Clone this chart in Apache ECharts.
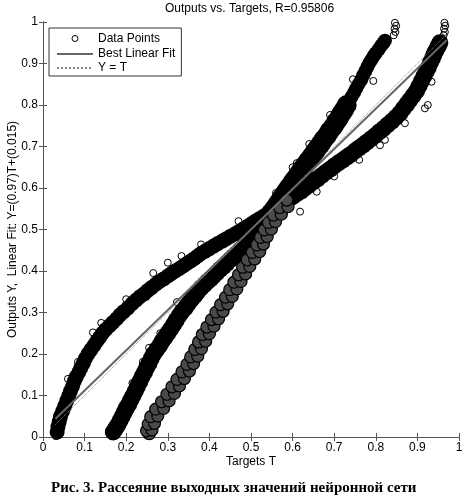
<!DOCTYPE html>
<html><head><meta charset="utf-8">
<script src="https://cdn.jsdelivr.net/npm/echarts@6/dist/echarts.min.js"></script>
<style>html,body{margin:0;padding:0;background:#fff}#c{width:467px;height:500px}</style>
</head><body><div id="c"></div>
<script>
const titleText = 'Outputs vs. Targets, R=0.95806';
const xName = 'Targets T';
const yName = 'Outputs Y,  Linear Fit: Y=(0.97)T+(0.015)';
const captionBold = 'Рис. 3.';
const captionText = ' Рассеяние выходных значений нейронной сети';
const tickLabels = ['0','0.1','0.2','0.3','0.4','0.5','0.6','0.7','0.8','0.9','1'];
const legendNames = ['Data Points','Best Linear Fit','Y = T'];

// lower-left curved band
const bandA = [
[0.034,0.012],[0.036,0.025],[0.039,0.037],
[0.042,0.049],[0.047,0.062],[0.052,0.074],[0.057,0.087],
[0.062,0.099],[0.066,0.111],[0.071,0.122],[0.075,0.134],
[0.080,0.145],[0.086,0.156],[0.091,0.167],[0.097,0.178],[0.102,0.189],
[0.108,0.200],[0.115,0.210],[0.122,0.220],[0.129,0.230],[0.136,0.240],
[0.143,0.250],[0.151,0.259],[0.160,0.268],[0.168,0.276],[0.177,0.285],[0.185,0.294],
[0.194,0.302],[0.204,0.311],[0.214,0.321],
[0.224,0.330],[0.233,0.338],[0.243,0.345],[0.252,0.353],[0.261,0.360],[0.271,0.368],
[0.280,0.375],[0.290,0.381],[0.300,0.388],[0.309,0.394],[0.318,0.400],[0.328,0.406],
[0.337,0.412],[0.346,0.418],[0.355,0.424],[0.364,0.430],[0.372,0.436],[0.380,0.442],
[0.390,0.448],[0.400,0.454],[0.410,0.460],[0.420,0.466],[0.431,0.472],[0.441,0.478],
[0.451,0.484],[0.461,0.489],[0.471,0.495],[0.481,0.501],[0.491,0.507],[0.501,0.514],
[0.510,0.520],[0.520,0.526],[0.530,0.532],[0.540,0.539],[0.550,0.545]
];
// middle band starting at T=0.16
const bandB = [
[0.169,0.012],[0.174,0.020],[0.180,0.029],[0.185,0.039],
[0.190,0.049],[0.195,0.059],[0.200,0.069],[0.206,0.079],[0.211,0.089],
[0.216,0.099],[0.222,0.111],[0.227,0.122],[0.233,0.134],
[0.238,0.145],[0.244,0.156],[0.249,0.167],[0.255,0.178],[0.260,0.189],
[0.266,0.200],[0.273,0.210],[0.280,0.220],[0.286,0.230],[0.293,0.240],
[0.300,0.250],[0.307,0.260],[0.314,0.271],[0.320,0.281],[0.327,0.292],
[0.334,0.302],[0.342,0.311],[0.349,0.321],
[0.357,0.332],[0.365,0.341],[0.372,0.350],
[0.380,0.359],[0.388,0.367],[0.395,0.374],[0.403,0.381],
[0.410,0.388],[0.418,0.396],[0.426,0.404],[0.434,0.411],[0.442,0.419],
[0.450,0.427],[0.458,0.435],[0.466,0.442],[0.474,0.450],[0.482,0.458],
[0.490,0.465],[0.498,0.473],[0.506,0.481],[0.514,0.489],[0.522,0.496],[0.530,0.504]
];
// right band starting at T=0.25
const bandC = [
[0.256,0.008],[0.249,0.015],[0.262,0.017],[0.253,0.031],[0.268,0.033],[0.259,0.049],
[0.276,0.051],[0.271,0.067],[0.290,0.069],[0.285,0.085],[0.303,0.087],[0.298,0.103],
[0.316,0.105],[0.310,0.121],[0.328,0.123],[0.322,0.139],[0.340,0.141],[0.334,0.157],
[0.352,0.159],[0.346,0.175],[0.362,0.177],[0.355,0.193],[0.372,0.195],[0.365,0.211],
[0.381,0.213],[0.374,0.229],[0.391,0.231],[0.383,0.247],[0.400,0.249],[0.394,0.265],
[0.411,0.267],[0.405,0.283],[0.422,0.285],[0.416,0.301],[0.433,0.303],[0.427,0.319],
[0.444,0.321],[0.439,0.337],[0.455,0.339],[0.449,0.355],[0.466,0.357],[0.459,0.373],
[0.476,0.375],[0.470,0.391],[0.487,0.393],[0.480,0.409],[0.497,0.411],[0.491,0.427],
[0.509,0.429],[0.503,0.445],[0.521,0.447],[0.514,0.463],[0.530,0.465],[0.523,0.481],
[0.539,0.483],[0.532,0.499],[0.549,0.501],[0.542,0.517],[0.559,0.519],[0.554,0.535],
[0.573,0.537],[0.569,0.553],[0.589,0.555],[0.586,0.571]
];
// upper steep band (ends near T=0.82)
const steepLow = [
[0.530,0.515],[0.536,0.523],[0.542,0.531],[0.548,0.539],[0.554,0.547],[0.560,0.555],
[0.566,0.564],[0.572,0.573],[0.578,0.582],[0.584,0.591],[0.590,0.600],[0.597,0.609],
[0.603,0.618],[0.610,0.627],[0.617,0.637],[0.623,0.646],[0.630,0.655],[0.637,0.665],
[0.645,0.675],[0.652,0.685],[0.659,0.695],[0.667,0.705],[0.674,0.716],[0.682,0.726],
[0.689,0.737],[0.697,0.747],[0.704,0.758],[0.711,0.768],[0.717,0.779],[0.724,0.789],
[0.730,0.800]
];
const steepTop = [
[0.736,0.810],[0.742,0.820],[0.748,0.830],[0.753,0.840],[0.759,0.851],[0.765,0.861],
[0.770,0.872],[0.775,0.882],[0.780,0.892],[0.785,0.902],[0.790,0.910],[0.795,0.918],
[0.800,0.925],[0.807,0.934],[0.813,0.943],[0.818,0.949],[0.822,0.955]
];
// upper flat band (ends near T=0.95)
const flatBand = [
[0.550,0.545],[0.560,0.552],[0.570,0.559],[0.580,0.566],[0.590,0.573],[0.600,0.579],
[0.610,0.586],[0.620,0.592],[0.630,0.600],[0.640,0.607],[0.650,0.615],[0.660,0.622],
[0.670,0.630],[0.680,0.638],[0.690,0.645],[0.700,0.653],[0.710,0.660],[0.720,0.667],
[0.730,0.674],[0.740,0.681],[0.750,0.689],[0.759,0.696],[0.769,0.703],[0.778,0.710],
[0.788,0.718],[0.798,0.726],[0.808,0.735],[0.818,0.743],[0.828,0.752],[0.838,0.760],
[0.848,0.770],[0.858,0.780],[0.866,0.791],[0.874,0.801],[0.882,0.812],[0.890,0.823],
[0.898,0.834],[0.904,0.846],[0.910,0.858],[0.916,0.870],[0.921,0.880],[0.926,0.890],
[0.931,0.902],[0.936,0.912],[0.940,0.922],[0.944,0.930],[0.948,0.938],[0.951,0.944],
[0.954,0.950]
];
// scattered individual circles
const loosePoints = [
[0.120,0.252],[0.084,0.181],[0.240,0.181],[0.282,0.250],[0.333,0.436],[0.445,0.349],
[0.618,0.543],[0.658,0.591],[0.810,0.703],[0.918,0.792],[0.934,0.856],[0.794,0.858],
[0.610,0.660],[0.822,0.716],[0.925,0.800],[0.300,0.420],[0.265,0.395],
[0.031,0.002],[0.028,0.008],[0.036,0.004],[0.165,0.002],[0.162,0.008],[0.170,0.004],
[0.251,0.003],[0.247,0.008],[0.256,0.012],
[0.200,0.332],[0.380,0.464],[0.470,0.520],[0.700,0.628],[0.760,0.668],[0.870,0.756],
[0.640,0.706],[0.690,0.776],[0.745,0.862],[0.560,0.588],[0.600,0.650],
[0.140,0.275],[0.060,0.140],[0.215,0.130],[0.255,0.215],[0.322,0.325],
[0.843,0.968],[0.847,0.976],[0.845,0.984],[0.849,0.991],[0.846,0.998],
[0.963,0.968],[0.966,0.976],[0.964,0.984],[0.967,0.991],[0.965,0.998]
];
const fitLine = [[0.03,0.044],[0.97,0.956]];
const identityLine = [[0.03,0.03],[0.97,0.97]];

const font = 'Liberation Sans, Arial, sans-serif';
const serif = 'Liberation Serif, Times New Roman, serif';
const chart = echarts.init(document.getElementById('c'), null, {renderer:'canvas'});
const hollow = {color:'rgba(0,0,0,0)', borderColor:'#000', borderWidth:1, opacity:1};
const solid = {color:'#000', borderColor:'#000', borderWidth:0, opacity:1};
function band(data, size, style){
  return {type:'scatter', name:'Data Points', data:data, symbol:'circle', symbolSize:size,
          itemStyle:style, emphasis:{disabled:true}, animation:false, clip:false};
}
const axisCommon = {
  type:'value', min:0, max:1, interval:0.1,
  axisLine:{show:true, lineStyle:{color:'#555', width:1}},
  axisTick:{show:true, inside:true, length:4, lineStyle:{color:'#555'}},
  splitLine:{show:false}
};
chart.setOption({
  animation:false,
  backgroundColor:'#fff',
  title:[
    {text:titleText, left:165, top:3, padding:0,
     textStyle:{fontFamily:font, fontSize:12, fontWeight:'normal', color:'#000'}},
    {text:'{b|'+captionBold+'}{n|'+captionText+'}', left:51, top:481, padding:0,
     textStyle:{rich:{
       b:{fontFamily:serif, fontSize:15, fontWeight:'bold', color:'#000'},
       n:{fontFamily:serif, fontSize:15, color:'#000'}}}}
  ],
  legend:{
    orient:'vertical', left:49, top:28, padding:[3,6,2,7],
    itemWidth:36, itemHeight:14, itemGap:2,
    borderColor:'#333', borderWidth:1, backgroundColor:'#fff',
    textStyle:{fontFamily:font, fontSize:12, color:'#000'},
    selectedMode:false,
    data:[
      {name:legendNames[0], icon:'path://M0,0M36,14M21,7A3,3,0,1,1,15,7A3,3,0,1,1,21,7Z',
       itemStyle:{color:'rgba(0,0,0,0)', borderColor:'#000', borderWidth:1, opacity:1}},
      {name:legendNames[1], itemStyle:{opacity:0}},
      {name:legendNames[2], itemStyle:{opacity:0}}
    ]
  },
  grid:{left:43, right:8, top:22, bottom:63, containLabel:false, outerBoundsMode:'none'},
  xAxis:[
    Object.assign({}, axisCommon, {position:'bottom', name:xName, nameLocation:'middle', nameGap:19,
      nameMoveOverlap:false,
      nameTextStyle:{fontFamily:font, fontSize:12, color:'#000'},
      axisLabel:{show:true, margin:5, fontFamily:font, fontSize:12, color:'#000',
        formatter:function(v){return tickLabels[Math.round(v*10)];}}}),
    Object.assign({}, axisCommon, {position:'top', axisLabel:{show:false}})
  ],
  yAxis:[
    Object.assign({}, axisCommon, {position:'left', name:yName, nameLocation:'middle', nameGap:24,
      nameMoveOverlap:false,
      nameTextStyle:{fontFamily:font, fontSize:12, color:'#000'},
      axisLabel:{show:true, margin:5, fontFamily:font, fontSize:12, color:'#000',
        formatter:function(v){return tickLabels[Math.round(v*10)];}}}),
    Object.assign({}, axisCommon, {position:'right', axisLabel:{show:false}})
  ],
  series:[
    band(loosePoints, 7, hollow),
    band(bandA, 15, solid),
    band(bandB, 17, solid),
    band(steepLow, 20, solid),
    band(steepTop, 14, solid),
    band(flatBand, 17, solid),
    band(bandC, 12, {color:'#4a4a4a', borderColor:'#000', borderWidth:1.2, opacity:1}),
    {type:'line', name:legendNames[1], data:fitLine, showSymbol:false, symbol:'none',
     itemStyle:{color:'#666'},
     lineStyle:{color:'#666', width:2}, emphasis:{disabled:true}, animation:false, z:5},
    {type:'line', name:legendNames[2], data:identityLine, showSymbol:false, symbol:'none',
     itemStyle:{color:'#888'},
     lineStyle:{color:'#888', width:1, type:'dotted'}, emphasis:{disabled:true}, animation:false, z:6}
  ]
});
</script></body></html>
